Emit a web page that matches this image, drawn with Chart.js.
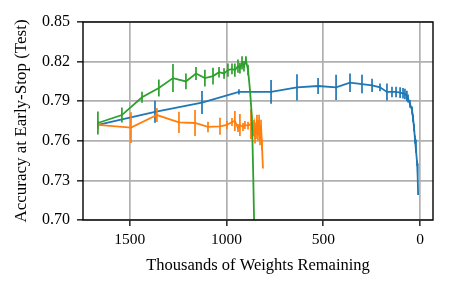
<!DOCTYPE html>
<html>
<head>
<meta charset="utf-8">
<script src="https://cdn.jsdelivr.net/npm/chart.js@4/dist/chart.umd.min.js"></script>
<style>
  html, body { margin: 0; padding: 0; background: #fff; }
  #wrap { width: 456px; height: 288px; }
</style>
</head>
<body>
<div id="wrap"><canvas id="c" width="456" height="288"></canvas></div>
<script>
// ---- data (thousands of weights remaining, accuracy, error half-width) ----
const blueX = [1665, 1370, 1127, 936, 770, 636, 527, 434, 362, 300, 248, 207, 171, 145, 124, 103, 88, 78, 68, 62, 52, 41, 36, 31, 26, 21, 15, 12, 10];
const blueY = [0.772, 0.782, 0.789, 0.797, 0.797, 0.8005, 0.8015, 0.8005, 0.804, 0.803, 0.802, 0.8005, 0.797, 0.797, 0.797, 0.7965, 0.796, 0.7955, 0.794, 0.792, 0.788, 0.783, 0.777, 0.770, 0.761, 0.753, 0.743, 0.732, 0.719];
const blueE = [0.003, 0.0083, 0.0087, 0.002, 0.009, 0.010, 0.006, 0.0095, 0.007, 0.007, 0.005, 0.003, 0.0065, 0.004, 0.004, 0.004, 0.004, 0.004, 0.004, 0.003, 0.003, 0.003, 0.003, 0.003, 0.003, 0.002, 0.002, 0, 0];

const orangeX = [1665, 1494, 1360, 1246, 1163, 1096, 1034, 998, 972, 957, 941, 931, 915, 905, 889, 874, 869, 863, 858, 853, 848, 843, 838, 832, 827, 822, 817, 812];
const orangeY = [0.772, 0.770, 0.7795, 0.774, 0.7735, 0.7705, 0.771, 0.772, 0.7742, 0.775, 0.7697, 0.772, 0.7705, 0.772, 0.7715, 0.7727, 0.771, 0.7667, 0.772, 0.762, 0.7697, 0.7758, 0.764, 0.7758, 0.7606, 0.772, 0.757, 0.739];
const orangeE = [0.003, 0.0117, 0.0053, 0.008, 0.0098, 0.004, 0.0064, 0.003, 0.003, 0.0075, 0.003, 0.0083, 0.003, 0.003, 0.003, 0.0114, 0.003, 0.003, 0.004, 0.004, 0.004, 0.004, 0.004, 0.004, 0.004, 0.004, 0.004, 0];

const greenX = [1665, 1541, 1437, 1350, 1277, 1210, 1158, 1112, 1070, 1039, 1013, 993, 972, 957, 941, 931, 920, 910, 900, 889, 879, 869, 863, 858, 853];
const greenY = [0.7735, 0.7795, 0.793, 0.800, 0.8075, 0.805, 0.811, 0.8075, 0.809, 0.812, 0.811, 0.8135, 0.8145, 0.8135, 0.8165, 0.815, 0.819, 0.8165, 0.821, 0.8136, 0.7985, 0.778, 0.740, 0.702, 0.660];
const greenE = [0.0087, 0.0057, 0.0042, 0.0064, 0.0106, 0.006, 0.005, 0.0064, 0.0064, 0.004, 0.004, 0.005, 0.004, 0.005, 0.005, 0.004, 0.005, 0.004, 0.003, 0.004, 0, 0, 0, 0, 0];

const xTicks = [1500, 1000, 500, 0];
const yTicks = [0.70, 0.73, 0.76, 0.79, 0.82, 0.85];

const BLUE = '#1f77b4', ORANGE = '#ff7f0e', GREEN = '#2ca02c';
const FONT = 'Liberation Serif';

function pts(xs, ys, es) { return xs.map((x, i) => ({ x: x, y: ys[i], e: es[i] })); }

const errorBars = {
  id: 'errorBars',
  afterDatasetDraw(chart, args) {
    const ds = chart.data.datasets[args.index];
    const xs = chart.scales.x, ys = chart.scales.y, ca = chart.chartArea;
    const ctx = chart.ctx;
    ctx.save();
    ctx.beginPath();
    ctx.rect(ca.left, ca.top, ca.right - ca.left, ca.bottom - ca.top);
    ctx.clip();
    ctx.strokeStyle = ds.borderColor;
    ctx.lineWidth = 1.7;
    ds.data.forEach(p => {
      if (!p.e) return;
      const px = xs.getPixelForValue(p.x);
      ctx.beginPath();
      ctx.moveTo(px, ys.getPixelForValue(p.y - p.e));
      ctx.lineTo(px, ys.getPixelForValue(p.y + p.e));
      ctx.stroke();
    });
    ctx.restore();
  },
  afterDraw(chart) {
    const ca = chart.chartArea, ctx = chart.ctx;
    ctx.save();
    ctx.strokeStyle = '#000';
    ctx.lineWidth = 1.4;
    ctx.strokeRect(ca.left, ca.top, ca.right - ca.left, ca.bottom - ca.top);
    ctx.restore();
  }
};

const lineDs = (data, color, order) => ({
  data: data, borderColor: color, backgroundColor: color, borderWidth: 1.8,
  pointRadius: 0, tension: 0, fill: false, order: order
});

new Chart(document.getElementById('c'), {
  type: 'line',
  data: {
    datasets: [
      lineDs(pts(blueX, blueY, blueE), BLUE, 2),
      lineDs(pts(orangeX, orangeY, orangeE), ORANGE, 1),
      lineDs(pts(greenX, greenY, greenE), GREEN, 0)
    ]
  },
  options: {
    responsive: false,
    animation: false,
    events: [],
    layout: { padding: { top: 22, right: 23, left: 0, bottom: 0 } },
    plugins: { legend: { display: false }, tooltip: { enabled: false } },
    scales: {
      x: {
        type: 'linear', reverse: true, min: -67, max: 1742,
        afterBuildTicks: s => { s.ticks = xTicks.map(v => ({ value: v })); },
        afterFit: s => { s.height = 68; },
        border: { display: false },
        grid: { color: '#b0b0b0', lineWidth: 1.7, tickColor: '#000', tickLength: 6, tickWidth: 1.3 },
        ticks: { color: '#000', font: { family: FONT, size: 15.5 }, padding: 5, maxRotation: 0,
                 callback: v => String(v) },
        title: { display: true, text: 'Thousands of Weights Remaining', color: '#000',
                 font: { family: FONT, size: 16.5 }, padding: { top: 0, bottom: 12 } }
      },
      y: {
        type: 'linear', min: 0.70, max: 0.85,
        afterBuildTicks: s => { s.ticks = yTicks.map(v => ({ value: v })); },
        afterFit: s => { s.width = 83; },
        border: { display: false },
        grid: { color: '#b0b0b0', lineWidth: 1.7, tickColor: '#000', tickLength: 6, tickWidth: 1.3 },
        ticks: { color: '#000', font: { family: FONT, size: 16 }, padding: 7,
                 callback: v => Number(v).toFixed(2) },
        title: { display: true, text: 'Accuracy at Early-Stop (Test)', color: '#000',
                 font: { family: FONT, size: 17 }, padding: { top: 11, bottom: 0 } }
      }
    }
  },
  plugins: [errorBars]
});
</script>
</body>
</html>
